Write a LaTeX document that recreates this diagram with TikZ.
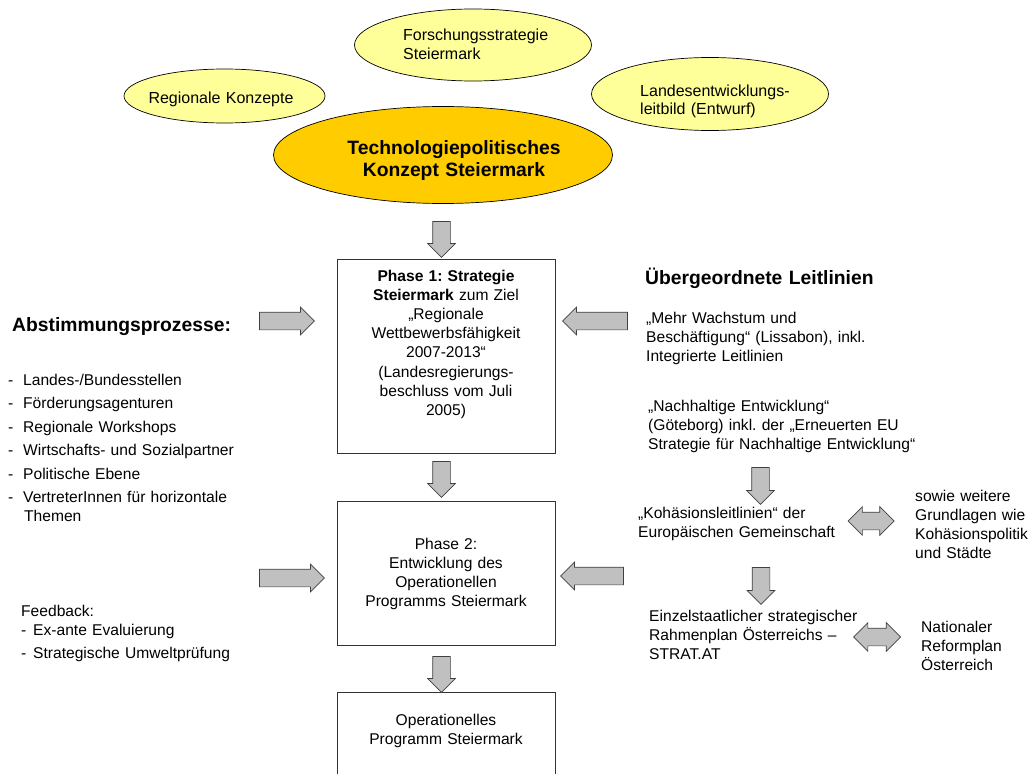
\documentclass[tikz,border=0pt]{standalone}
\usepackage{fontspec}
\setmainfont{Liberation Sans}
\usetikzlibrary{shapes.geometric,shapes.arrows}
\definecolor{lightyel}{HTML}{FFFF99}
\definecolor{amber}{HTML}{FFCC00}
\definecolor{arrowgray}{HTML}{C0C0C0}
\newcommand\bodyf{\fontsize{15.6}{19.2}\selectfont}
\newcommand\ellf{\fontsize{16}{18.8}\selectfont}
\newcommand\headf{\fontsize{19.3}{22}\selectfont\bfseries}
\tikzset{
  ell/.style={ellipse, draw=black, line width=0.7pt, fill=lightyel, inner sep=0pt},
  boxn/.style={rectangle, draw=black!80, line width=0.8pt, fill=white, inner sep=0pt},
  sarrow/.style={single arrow, draw=black!75, fill=arrowgray, line width=0.7pt,
    inner xsep=0pt, inner ysep=8.5pt, single arrow head extend=5pt, minimum height=#1pt},
  darrow/.style={double arrow, draw=black!75, fill=arrowgray, line width=0.7pt,
    inner xsep=0pt, inner ysep=8.5pt, double arrow head extend=5.5pt, minimum height=#1pt},
  txl/.style={anchor=base west, inner sep=0pt, align=left, font=\bodyf},
  txc/.style={anchor=base, inner sep=0pt, align=center, font=\bodyf}
}
\frenchspacing
\begin{document}
\begin{tikzpicture}[x=1pt,y=-1pt]
\useasboundingbox (0,0) rectangle (1032,773);

% top ellipses
\node[ell, minimum width=201pt, minimum height=54pt] (reg) at (224.5,96) {};
\node[ell, minimum width=237pt, minimum height=72pt] (fors) at (473,45) {};
\node[ell, minimum width=237pt, minimum height=73pt] (land) at (710,94) {};
\node[ellipse, draw=black, line width=0.7pt, fill=amber, inner sep=0pt,
      minimum width=339pt, minimum height=97pt] (tech) at (443,155) {};

\node[txc, font=\ellf, text width=190pt] (regt) at (221,103) {Regionale Konzepte};
\node[txl, font=\ellf, text width=170pt] (forst) at (403,41) {Forschungsstrategie\\Steiermark};
\node[txl, font=\ellf, text width=170pt] (landt) at (640,96) {Landesentwicklungs-\\leitbild (Entwurf)};
\node[txc, font=\headf, text width=300pt] (techt) at (454,154) {Technologiepolitisches\\Konzept Steiermark};

% central boxes
\node[boxn, minimum width=218pt, minimum height=194pt] (p1) at (446,356) {};
\node[boxn, minimum width=218pt, minimum height=144pt] (p2) at (446,573) {};
\node[boxn, minimum width=218pt, minimum height=120pt] (op) at (446,752) {};

\node[txc, text width=210pt] (p1t) at (446,281) {\textbf{Phase 1: Strategie}\\\textbf{Steiermark} zum Ziel\\„Regionale\\Wettbewerbsfähigkeit\\2007-2013“\\(Landesregierungs-\\beschluss vom Juli\\2005)};
\node[txc, text width=210pt] (p2t) at (446,549) {Phase 2:\\Entwicklung des\\Operationellen\\Programms Steiermark};
\node[txc, text width=210pt] (opt) at (446,725) {Operationelles\\Programm Steiermark};

% left side
\node[txl, font=\headf, text width=240pt] (abst) at (12,331) {Abstimmungsprozesse:};
\node[txl, text width=300pt] (list) at (8,385) {\makebox[15pt][l]{-}Landes-/Bundesstellen\\[4.3pt]
\makebox[15pt][l]{-}Förderungsagenturen\\[4.3pt]
\makebox[15pt][l]{-}Regionale Workshops\\[4.3pt]
\makebox[15pt][l]{-}Wirtschafts- und Sozialpartner\\[4.3pt]
\makebox[15pt][l]{-}Politische Ebene\\[4.3pt]
\makebox[15pt][l]{-}VertreterInnen für horizontale\\
\hspace*{16pt}Themen};
\node[txl, text width=300pt] (feed) at (21,616) {Feedback:\\
\makebox[12pt][l]{-}Ex-ante Evaluierung\\[4.3pt]
\makebox[12pt][l]{-}Strategische Umweltprüfung};

% right side
\node[txl, font=\headf, text width=330pt] (ueb) at (645,284) {Übergeordnete Leitlinien};
\node[txl, text width=330pt] (mehr) at (646,323) {„Mehr Wachstum und\\Beschäftigung“ (Lissabon), inkl.\\Integrierte Leitlinien};
\node[txl, text width=330pt] (nach) at (648,411) {„Nachhaltige Entwicklung“\\(Göteborg) inkl. der „Erneuerten EU\\Strategie für Nachhaltige Entwicklung“};
\node[txl, text width=240pt] (koh) at (638,518) {„Kohäsionsleitlinien“ der\\Europäischen Gemeinschaft};
\node[txl, text width=240pt] (einz) at (649,621) {Einzelstaatlicher strategischer\\Rahmenplan Österreichs –\\STRAT.AT};
\node[txl, text width=117pt] (sowie) at (915,501) {sowie weitere\\Grundlagen wie\\Kohäsionspolitik\\und Städte};
\node[txl, text width=105pt] (nat) at (921,632) {Nationaler\\Reformplan\\Österreich};

% block arrows
\node[sarrow=36, rotate=-90] (a0) at (441.5,235) {};
\node[sarrow=36, rotate=-90] (a1) at (441.5,475) {};
\node[sarrow=36, rotate=-90] (a2) at (441.5,670) {};
\node[sarrow=55] (al1) at (282.5,321) {};
\node[sarrow=65] (al2) at (287.5,578) {};
\node[sarrow=65, rotate=180] (ar1) at (599.5,321) {};
\node[sarrow=63, rotate=180] (ar2) at (596.5,576) {};
\node[sarrow=37, rotate=-90] (ad1) at (760.5,481.5) {};
\node[sarrow=37, rotate=-90] (ad2) at (761,581.5) {};
\node[darrow=46] (dd1) at (871,521) {};
\node[darrow=47] (dd2) at (877,637) {};
\end{tikzpicture}
\end{document}
